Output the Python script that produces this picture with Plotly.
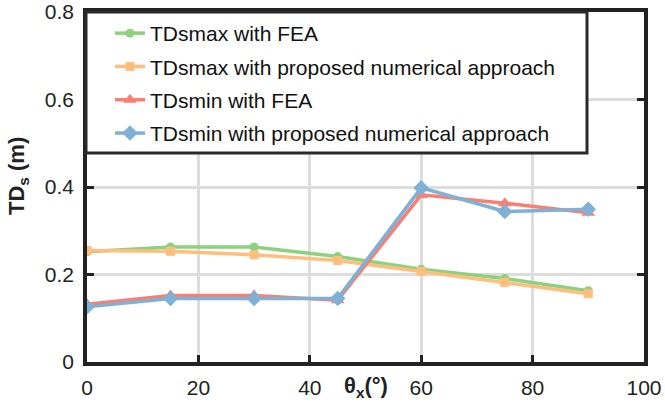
import plotly.graph_objects as go

# Rotation angle theta_x (degrees)
theta_x = [0, 15, 30, 45, 60, 75, 90]

# Tip displacement TDs (m)
tdsmax_fea = [0.252, 0.263, 0.263, 0.241, 0.212, 0.191, 0.163]
tdsmax_num = [0.255, 0.253, 0.245, 0.232, 0.207, 0.182, 0.156]
tdsmin_fea = [0.132, 0.152, 0.152, 0.141, 0.382, 0.363, 0.341]
tdsmin_num = [0.126, 0.145, 0.145, 0.145, 0.398, 0.344, 0.349]

series_names = [
    "TDsmax with FEA",
    "TDsmax with proposed numerical approach",
    "TDsmin with FEA",
    "TDsmin with proposed numerical approach",
]
series_values = [tdsmax_fea, tdsmax_num, tdsmin_fea, tdsmin_num]
colors = ["#8CD17D", "#FFBE7D", "#FA7F72", "#7FB0D6"]
symbols = ["circle", "square", "triangle-up", "diamond"]
sizes = [9, 9, 12, 12]

FONT = "Arial, Liberation Sans, sans-serif"
W, H = 665, 415
ML, MR, MT, MB = 87, 21, 12, 53
PW, PH = W - ML - MR, H - MT - MB


def px_x(p):
    return (p - ML) / PW


def px_y(p):
    return (H - MB - p) / PH


fig = go.Figure()
for i, (name, vals) in enumerate(zip(series_names, series_values)):
    fig.add_trace(go.Scatter(
        x=theta_x, y=vals, name=name, mode="lines+markers",
        legendgroup=f"g{i}",
        line=dict(color=colors[i], width=3.5),
        marker=dict(color=colors[i], symbol=symbols[i], size=sizes[i]),
    ))

axis_common = dict(
    showline=True, linecolor="#222", linewidth=3.5, mirror="ticks",
    ticks="inside", ticklen=7, tickwidth=3, tickcolor="#222",
    showgrid=True, gridcolor="#DDDDDD", gridwidth=2.5,
    zeroline=False, automargin=False, ticklabeloverflow="allow",
    tickfont=dict(family=FONT, size=21, color="#222"),
)

fig.update_layout(
    width=W, height=H,
    margin=dict(l=ML, r=MR, t=MT, b=MB),
    paper_bgcolor="white", plot_bgcolor="white",
    xaxis=dict(range=[0, 100], dtick=20, ticklabelstandoff=4, **axis_common),
    yaxis=dict(range=[0, 0.8], dtick=0.2, ticklabelstandoff=5, **axis_common),
    showlegend=True,
    legend=dict(
        x=px_x(110), y=px_y(13), xanchor="left", yanchor="top",
        bgcolor="rgba(0,0,0,0)", borderwidth=0,
        font=dict(family=FONT, size=21, color="#111"),
        tracegroupgap=3, itemwidth=30,
    ),
    shapes=[dict(
        type="rect", xref="paper", yref="paper", layer="above",
        x0=px_x(86), x1=px_x(587), y0=px_y(153), y1=px_y(12),
        fillcolor="white", line=dict(color="#2a2a2a", width=3),
    )],
    annotations=[
        dict(text="<b>θ<sub>x</sub>(°)</b>", xref="paper", yref="paper",
             x=px_x(366), y=px_y(387), xanchor="center", yanchor="middle",
             showarrow=False, font=dict(family=FONT, size=22, color="#222")),
        dict(text="<b>TD<sub>s</sub> (m)</b>", xref="paper", yref="paper",
             x=px_x(18), y=px_y(176), xanchor="center", yanchor="middle",
             textangle=-90, showarrow=False,
             font=dict(family=FONT, size=22, color="#222")),
    ],
)

fig.write_html("out.html")
